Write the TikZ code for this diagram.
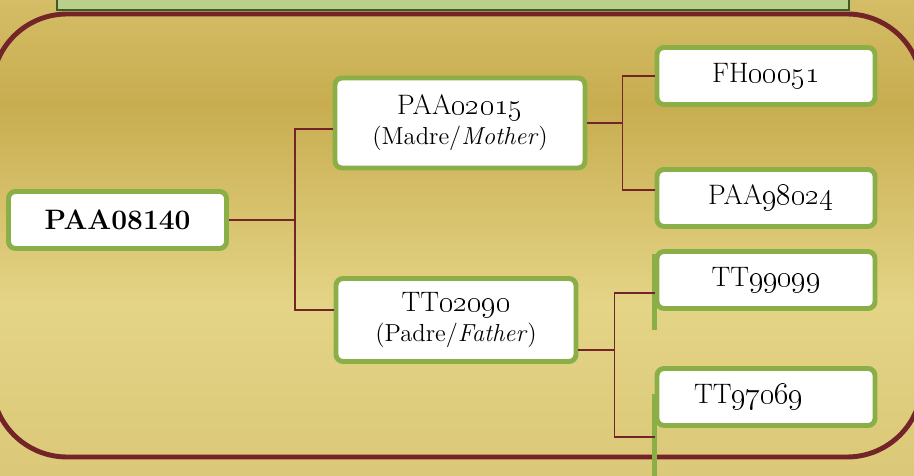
\documentclass[tikz,border=0pt]{standalone}
\usepackage{amsmath}
\usepackage{tikz}
\usetikzlibrary{positioning}

\definecolor{goldtop}{HTML}{D4BD66}
\definecolor{goldband}{HTML}{C8AD50}
\definecolor{goldlight}{HTML}{E4D486}
\definecolor{goldlow}{HTML}{DBC878}
\definecolor{framered}{HTML}{722428}
\definecolor{boxgreen}{HTML}{8AAF47}
\definecolor{capgreen}{HTML}{B8D08A}
\definecolor{capdark}{HTML}{3E5A26}

\pgfdeclareverticalshading{goldbg}{100bp}{color(0bp)=(goldlow); color(25bp)=(goldlow);
  color(43bp)=(goldlight); color(64bp)=(goldband); color(75bp)=(goldtop); color(100bp)=(goldtop)}

\tikzset{
  idbox/.style={draw=boxgreen, line width=2.8pt, fill=white, rounded corners=4pt,
    minimum width=4.36cm, minimum height=1.14cm, inner sep=2pt, align=center,
    font=\fontsize{16}{19}\selectfont},
  link/.style={draw=framered, line width=1.1pt},
  sidebar/.style={draw=boxgreen, line width=2.8pt}
}
\newcommand{\sub}[1]{{\fontsize{14}{17}\selectfont #1}}

\begin{document}
\begin{tikzpicture}
\useasboundingbox (0,0) rectangle (18.28,9.5);
% background
\shade[shading=goldbg] (0,0) rectangle (18.28,9.5);
% frame and top bar
\draw[framered, line width=2.8pt, rounded corners=1.5cm] (-0.16,0.36) rectangle (18.44,9.22);
\draw[capdark, fill=capgreen, line width=1.5pt] (1.14,9.3) rectangle (16.98,10.2);

% boxes
\node[idbox, font=\fontsize{16}{19}\selectfont\bfseries] (root) at (2.35,5.10) {PAA08140};
\node[idbox, minimum width=5.0cm, minimum height=1.8cm] (madre) at (9.2,7.04)
  {PAA\oldstylenums{02015}\\[-2pt]\sub{(Madre/\textit{Mother})}};
\node[idbox, minimum width=4.8cm, minimum height=1.66cm] (padre) at (9.12,3.10)
  {TT\oldstylenums{02090}\\[-2pt]\sub{(Padre/\textit{Father})}};
\node[idbox] (fh) at (15.32,7.98) {FH\oldstylenums{00051}};
\node[idbox] (paa98) at (15.32,5.54) {\hspace{0.2cm}PAA\oldstylenums{98024}};
\node[idbox] (tt99) at (15.32,3.90) {TT\oldstylenums{99099}};
\node[idbox] (tt97) at (15.32,1.56) {TT\oldstylenums{97069}\hspace{0.7cm}};

% green side bars
\draw[sidebar] ([yshift=-0.1cm]tt99.north west) -- ++(0,-1.52);
\draw[sidebar] ([yshift=-0.56cm]tt97.north west) -- ++(0,-2);

% connectors
\coordinate (j1) at ([xshift=1.33cm]root.east);
\coordinate (j2) at ([xshift=0.7cm]madre.east);
\coordinate (j3) at ([xshift=0.72cm,yshift=-0.6cm]padre.east);
\draw[link] (root.east) -- (j1) |- ([yshift=-0.12cm]madre.west);
\draw[link] (j1) |- ([yshift=0.2cm]padre.west);
\draw[link] (madre.east) -- (j2) |- (fh.west);
\draw[link] (j2) |- ([yshift=0.16cm]paa98.west);
\draw[link] ([yshift=-0.6cm]padre.east) -- (j3) |- ([yshift=-0.26cm]tt99.west);
\draw[link] (j3) |- ([yshift=-0.8cm]tt97.west);
\end{tikzpicture}
\end{document}
